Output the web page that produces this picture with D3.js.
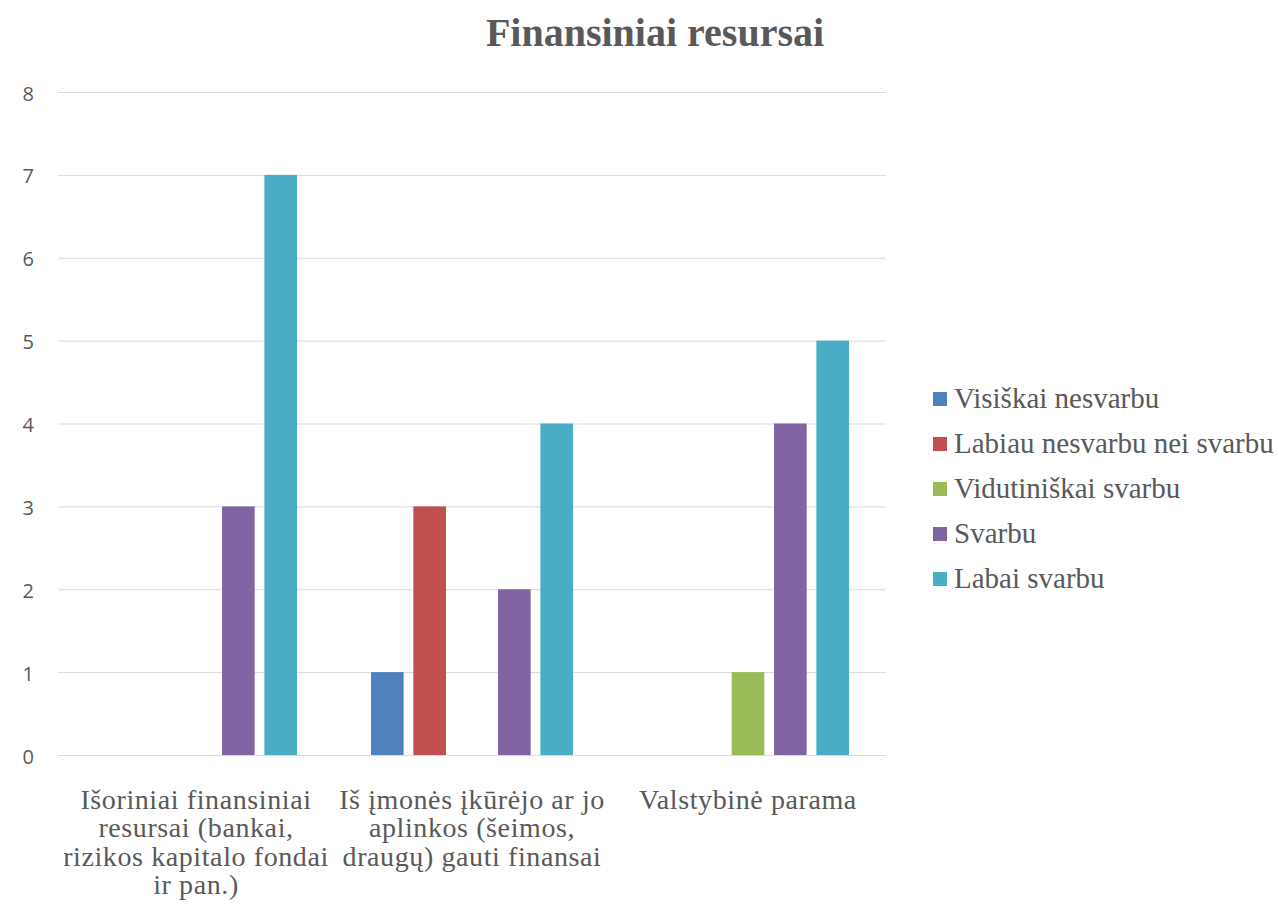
<!DOCTYPE html>
<html>
<head>
<meta charset="utf-8">
<script src="https://cdn.jsdelivr.net/npm/d3@7"></script>
<style>
  html, body { margin: 0; padding: 0; background: #ffffff; }
  svg { display: block; }
</style>
</head>
<body>
<svg id="chart" width="1279" height="909"></svg>
<script>
// Chart content
const title = "Finansiniai resursai";
const categories = [
  ["Išoriniai finansiniai", "resursai (bankai,", "rizikos kapitalo fondai", "ir pan.)"],
  ["Iš įmonės įkūrėjo ar jo", "aplinkos (šeimos,", "draugų) gauti finansai"],
  ["Valstybinė parama"]
];
const seriesNames = [
  "Visiškai nesvarbu",
  "Labiau nesvarbu nei svarbu",
  "Vidutiniškai svarbu",
  "Svarbu",
  "Labai svarbu"
];
const visiskaiNesvarbu = [0, 1, 0];
const labiauNesvarbu   = [0, 3, 0];
const vidutiniskai     = [0, 0, 1];
const svarbu           = [3, 2, 4];
const labaiSvarbu      = [7, 4, 5];
const yTicks = [0, 1, 2, 3, 4, 5, 6, 7, 8];
const colors = ["#4F81BD", "#C0504D", "#9BBB59", "#8064A2", "#4BACC6"];

const seriesValues = [visiskaiNesvarbu, labiauNesvarbu, vidutiniskai, svarbu, labaiSvarbu];

const svg = d3.select("#chart");
const plot = { left: 58, right: 886, top: 92, bottom: 755 };

const x0 = d3.scaleBand()
  .domain(d3.range(categories.length))
  .range([plot.left, plot.right])
  .padding(0);

const groupPad = 37;
const x1 = d3.scaleBand()
  .domain(d3.range(seriesNames.length))
  .range([groupPad, x0.bandwidth() - groupPad])
  .paddingInner(0.23)
  .paddingOuter(0);

const y = d3.scaleLinear().domain([0, 8]).range([plot.bottom, plot.top]);

// Horizontal gridlines with value labels
const yAxis = d3.axisLeft(y)
  .tickValues(yTicks)
  .tickSize(-(plot.right - plot.left))
  .tickPadding(24)
  .tickFormat(d3.format("d"));

const gy = svg.append("g")
  .attr("transform", `translate(${plot.left},0)`)
  .call(yAxis);
gy.select(".domain").remove();
gy.selectAll(".tick line").attr("stroke", "#d9d9d9").attr("stroke-width", 1);
gy.selectAll(".tick text")
  .attr("fill", "#595959")
  .attr("dy", "0.4em")
  .style("font-family", "'Open Sans', 'DejaVu Sans', sans-serif")
  .style("font-size", "20px");

// Bars
const groups = svg.append("g").selectAll("g")
  .data(categories.map((c, i) => i))
  .join("g")
  .attr("transform", i => `translate(${x0(i)},0)`);

groups.selectAll("rect")
  .data(i => seriesValues.map((vals, s) => ({ s, v: vals[i] })).filter(d => d.v > 0))
  .join("rect")
  .attr("x", d => x1(d.s))
  .attr("width", x1.bandwidth())
  .attr("y", d => y(d.v))
  .attr("height", d => y(0) - y(d.v))
  .attr("fill", d => colors[d.s]);

// Category labels (multi-line, centred under each group)
const labelFont = "'Liberation Serif', 'Times New Roman', serif";
const catLabels = svg.append("g");
categories.forEach((lines, i) => {
  const cx = x0(i) + x0.bandwidth() / 2;
  const t = catLabels.append("text")
    .attr("x", cx)
    .attr("y", 809)
    .attr("text-anchor", "middle")
    .attr("fill", "#595959")
    .style("font-family", labelFont)
    .style("font-size", "28px")
    .style("letter-spacing", "0.6px");
  lines.forEach((ln, k) => {
    t.append("tspan")
      .attr("x", cx)
      .attr("dy", k === 0 ? 0 : 28.3)
      .text(ln);
  });
});

// Title
svg.append("text")
  .attr("x", 655)
  .attr("y", 46)
  .attr("text-anchor", "middle")
  .attr("fill", "#595959")
  .style("font-family", labelFont)
  .style("font-weight", "bold")
  .style("font-size", "40px")
  .text(title);

// Legend
const legend = svg.append("g").attr("transform", "translate(933,408)");
const items = legend.selectAll("g")
  .data(seriesNames)
  .join("g")
  .attr("transform", (d, i) => `translate(0,${i * 45})`);
items.append("rect")
  .attr("x", 0)
  .attr("y", -16)
  .attr("width", 14)
  .attr("height", 14)
  .attr("fill", (d, i) => colors[i]);
items.append("text")
  .attr("x", 21)
  .attr("y", 0)
  .attr("fill", "#595959")
  .style("font-family", labelFont)
  .style("font-size", "29px")
  .text(d => d);
</script>
</body>
</html>
